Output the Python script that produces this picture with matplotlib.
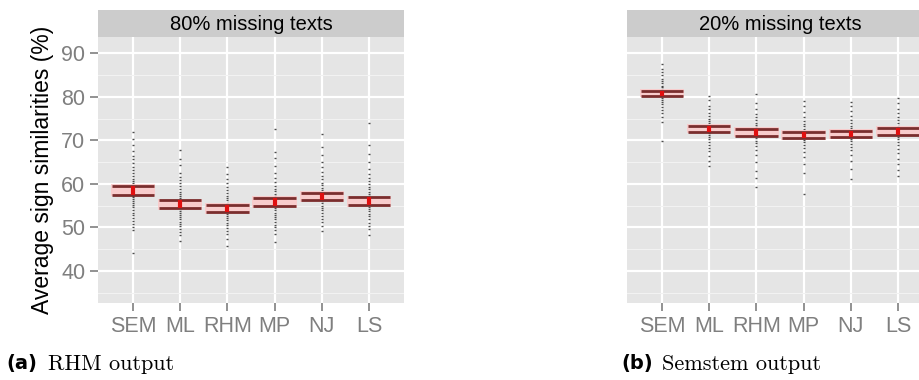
import matplotlib
matplotlib.use("Agg")
import matplotlib.pyplot as plt

plt.rcParams["font.family"] = ["Liberation Sans", "DejaVu Sans"]

methods = ["SEM", "ML", "RHM", "MP", "NJ", "LS"]

# 80% missing texts (RHM output): interval bounds per method
low_80 = [57.5, 54.4, 53.5, 54.8, 56.2, 55.1]
high_80 = [59.6, 56.2, 55.2, 56.7, 58.0, 56.9]

# 20% missing texts (Semstem output)
low_20 = [80.3, 72.0, 71.1, 70.5, 70.65, 71.3]
high_20 = [81.45, 73.4, 72.6, 71.9, 72.25, 72.9]

# individual run similarities
runs_80 = {
    "SEM": [44.2, 49.3, 50.1, 50.8, 51.5, 52.2, 52.9, 53.4, 54.0, 54.6, 55.1, 55.5, 56.0,
            56.4, 56.9, 57.3, 57.7, 58.1, 58.5, 58.9, 59.3, 59.8, 60.2, 60.7, 61.2, 61.8,
            62.4, 63.1, 63.9, 64.8, 65.6, 66.5, 67.6, 68.9, 70.2, 71.8],
    "ML": [46.9, 48.3, 49.0, 49.6, 50.2, 50.7, 51.3, 51.8, 52.3, 52.8, 53.2, 53.7, 54.1,
           54.6, 55.0, 55.4, 55.9, 56.3, 56.8, 57.2, 57.7, 58.2, 58.8, 59.4, 60.1, 60.8,
           61.6, 62.5, 64.3, 65.8, 67.7],
    "RHM": [45.6, 47.2, 48.4, 49.2, 49.9, 50.5, 51.0, 51.6, 52.1, 52.6, 53.0, 53.5, 53.9,
            54.4, 54.8, 55.3, 55.7, 56.2, 56.7, 57.3, 57.9, 58.6, 59.3, 60.1, 61.0, 62.2, 63.9],
    "MP": [46.6, 48.5, 49.3, 50.0, 50.6, 51.2, 51.8, 52.4, 52.9, 53.4, 53.9, 54.4, 54.8,
           55.3, 55.7, 56.2, 56.7, 57.2, 57.7, 58.3, 58.9, 59.6, 60.4, 61.3, 62.5, 64.0,
           65.9, 67.4, 72.6],
    "NJ": [49.1, 50.4, 51.2, 51.9, 52.6, 53.3, 53.9, 54.5, 55.0, 55.5, 56.0, 56.5, 57.0,
           57.5, 58.0, 58.5, 59.1, 59.7, 60.3, 61.0, 61.8, 62.7, 63.8, 65.1, 66.6, 68.4, 71.5],
    "LS": [48.2, 49.5, 50.3, 51.1, 51.8, 52.5, 53.1, 53.7, 54.2, 54.7, 55.2, 55.7, 56.1,
           56.6, 57.1, 57.6, 58.1, 58.7, 59.3, 59.9, 60.6, 61.4, 62.3, 63.5, 65.0, 66.8,
           69.0, 74.0],
}
runs_20 = {
    "SEM": [69.8, 74.1, 75.3, 76.2, 77.0, 77.7, 78.3, 78.8, 79.3, 79.8, 80.2, 80.6, 81.0,
            81.4, 81.8, 82.2, 82.6, 83.1, 83.6, 84.2, 84.9, 85.7, 86.5, 87.5],
    "ML": [64.1, 65.3, 66.4, 67.5, 68.3, 69.0, 69.6, 70.2, 70.7, 71.2, 71.6, 72.0, 72.4,
           72.8, 73.2, 73.6, 74.0, 74.5, 75.0, 75.6, 76.3, 77.1, 78.0, 79.2, 80.3],
    "RHM": [59.3, 61.4, 63.0, 65.1, 66.7, 67.8, 68.6, 69.3, 69.9, 70.5, 71.0, 71.4, 71.8,
            72.2, 72.6, 73.0, 73.5, 74.0, 74.6, 75.3, 76.1, 77.2, 78.6, 80.6],
    "MP": [57.7, 62.5, 64.6, 66.2, 67.4, 68.3, 69.0, 69.6, 70.1, 70.6, 71.0, 71.4, 71.8,
           72.2, 72.7, 73.2, 73.8, 74.5, 75.4, 76.5, 77.8, 79.0],
    "NJ": [61.1, 63.4, 65.2, 66.6, 67.7, 68.5, 69.2, 69.8, 70.3, 70.8, 71.2, 71.6, 72.0,
           72.4, 72.9, 73.4, 74.0, 74.7, 75.6, 76.7, 77.9, 78.9],
    "LS": [61.9, 63.1, 64.5, 65.8, 67.0, 68.1, 68.9, 69.6, 70.2, 70.8, 71.3, 71.8, 72.3,
           72.8, 73.3, 73.9, 74.6, 75.4, 76.3, 77.3, 78.5, 79.7],
}

PANEL_BG = "#e5e5e5"
STRIP_BG = "#cccccc"
TICK_GREY = "#7f7f7f"
W, H = 920, 380


def box(x0, y0, x1, y1):
    # pixel box (top-left origin) -> figure fraction rect
    return [x0 / W, 1 - y1 / H, (x1 - x0) / W, (y1 - y0) / H]


def draw_panel(fig, x0, title, runs, lo, hi, ylabels):
    ax = fig.add_axes(box(x0, 37, x0 + 306, 303))
    strip = fig.add_axes(box(x0, 10, x0 + 306, 37))

    ax.set_facecolor(PANEL_BG)
    for s in ax.spines.values():
        s.set_visible(False)
    ax.set_xlim(0.26, 6.74)
    ax.set_ylim(32.6, 93.75)
    ax.set_yticks([40, 50, 60, 70, 80, 90])
    ax.set_yticks([35, 45, 55, 65, 75, 85], minor=True)
    ax.set_xticks(range(1, 7))
    ax.set_xticklabels(methods)
    ax.grid(which="major", color="white", lw=1.6)
    ax.grid(which="minor", axis="y", color="#f2f2f2", lw=0.8)
    ax.set_axisbelow(True)
    ax.tick_params(which="major", colors=TICK_GREY, labelsize=15.5, length=6, width=1.2, pad=3)
    ax.tick_params(which="minor", length=0)
    if not ylabels:
        ax.tick_params(axis="y", left=False, labelleft=False)

    for i, m in enumerate(methods):
        x = i + 1
        ys = runs[m]
        ax.scatter([x] * len(ys), ys, s=4, marker="_", color="black", alpha=0.7,
                   linewidths=1.0, zorder=3)
        # pink band behind the interval lines
        ax.fill_between([x - 0.47, x + 0.47], lo[i] - 0.4, hi[i] + 0.4,
                        color="#fbcaca", alpha=0.9, lw=0, zorder=4)
        ax.hlines([lo[i], hi[i]], x - 0.45, x + 0.45, color="#7a2e2e", lw=2.0, zorder=5)
        ax.vlines(x, lo[i], hi[i], color="#e01010", lw=3, zorder=6)

    strip.set_facecolor(STRIP_BG)
    strip.set_xticks([])
    strip.set_yticks([])
    for s in strip.spines.values():
        s.set_visible(False)
    strip.text(0.5, 0.45, title, ha="center", va="center", fontsize=14.5,
               color="black", transform=strip.transAxes)
    return ax


fig = plt.figure(figsize=(9.2, 3.8), dpi=100)

ax_a = draw_panel(fig, 98, "80% missing texts", runs_80, low_80, high_80, True)
ax_a.set_ylabel("Average sign similarities (%)", fontsize=16.5, color="black", labelpad=5)
draw_panel(fig, 627, "20% missing texts", runs_20, low_20, high_20, False)

# sub-figure captions
cy = 1 - 364 / H
fig.text(6 / W, cy, "(a)", fontsize=14, fontweight="bold", va="center",
         family="DejaVu Sans")
fig.text(48 / W, cy, "RHM output", fontsize=16, family="cmr10", va="center")
fig.text(621 / W, cy, "(b)", fontsize=14, fontweight="bold", va="center",
         family="DejaVu Sans")
fig.text(662 / W, cy, "Semstem output", fontsize=16, family="cmr10", va="center")

fig.savefig("out.png", dpi=100)
